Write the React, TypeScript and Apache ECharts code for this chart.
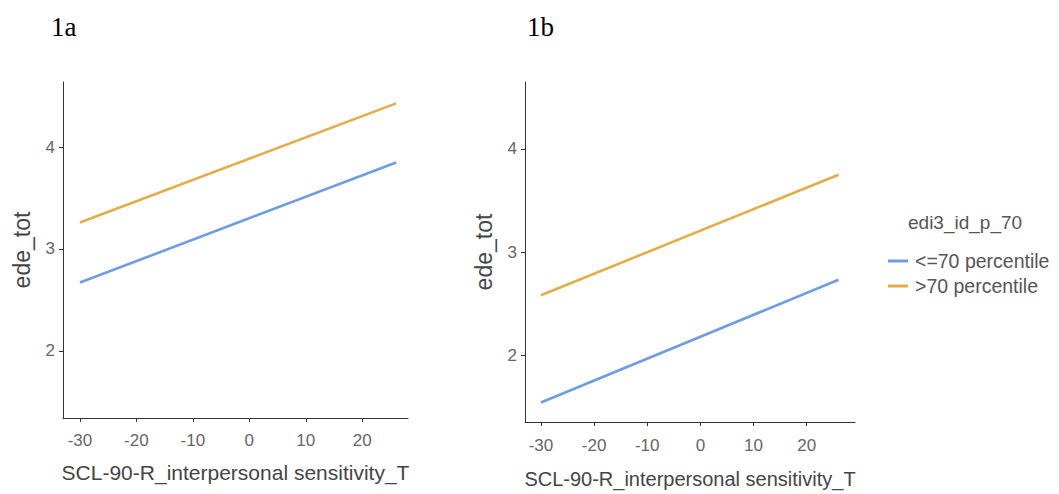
import React, { useEffect, useRef } from "react";
import * as echarts from "echarts";

const xTicks = [-30, -20, -10, 0, 10, 20];
const yTicks = [2, 3, 4];
const xEnds = [-30, 26];
const aLow = [2.67, 3.85];
const aHigh = [3.26, 4.43];
const bLow = [1.54, 2.73];
const bHigh = [2.58, 3.75];
const groupNames = ["<=70 percentile", ">70 percentile"];
const legendTitle = "edi3_id_p_70";
const xName = "SCL-90-R_interpersonal sensitivity_T";
const yName = "ede_tot";
const panelLabels = ["1a", "1b"];

const COLORS = ["#6F9CE3", "#E3AE48"];
const FONT = "Liberation Sans, Arial, sans-serif";

function pts(vals: number[]) {
  return xEnds.map((x, i) => [x, vals[i]]);
}

function xAxis(gridIndex: number, max: number, nameGap: number, margin: number, nameSize: number) {
  return {
    type: "value",
    gridIndex,
    min: -33,
    max,
    name: xName,
    nameLocation: "middle",
    nameGap,
    nameTextStyle: { fontFamily: FONT, fontSize: nameSize, color: "#444" },
    axisLine: { show: true, onZero: false, lineStyle: { color: "#333", width: 1 } },
    axisTick: { show: true, length: 4, customValues: xTicks, lineStyle: { color: "#333" } },
    axisLabel: { customValues: xTicks, margin, fontFamily: FONT, fontSize: 17, color: "#666" },
    splitLine: { show: false },
  };
}

function yAxis(gridIndex: number, min: number, max: number) {
  return {
    type: "value",
    gridIndex,
    min,
    max,
    name: yName,
    nameLocation: "middle",
    nameGap: 30,
    nameTextStyle: { fontFamily: FONT, fontSize: 23, color: "#444" },
    axisLine: { show: true, onZero: false, lineStyle: { color: "#333", width: 1 } },
    axisTick: { show: true, length: 4, customValues: yTicks, lineStyle: { color: "#333" } },
    axisLabel: { customValues: yTicks, margin: 8, fontFamily: FONT, fontSize: 17, color: "#666" },
    splitLine: { show: false },
  };
}

export default function App() {
  const ref = useRef<HTMLDivElement>(null);
  useEffect(() => {
    if (!ref.current) return;
    const chart = echarts.init(ref.current, null, { renderer: "svg" });
    const line = (name: string, xi: number, vals: number[], c: string) => ({
      name,
      type: "line",
      xAxisIndex: xi,
      yAxisIndex: xi,
      data: pts(vals),
      symbol: "none",
      lineStyle: { color: c, width: 2.6 },
      itemStyle: { color: c },
    });
    chart.setOption({
      animation: false,
      backgroundColor: "#fff",
      graphic: [
        { type: "text", left: 51, top: 13, style: { text: panelLabels[0], font: "27px 'Liberation Serif', 'Times New Roman', serif", fill: "#000" } },
        { type: "text", left: 527, top: 13, style: { text: panelLabels[1], font: "27px 'Liberation Serif', 'Times New Roman', serif", fill: "#000" } },
        { type: "text", left: 908, top: 213, style: { text: legendTitle, font: `19px ${FONT}`, fill: "#555" } },
      ],
      legend: {
        orient: "vertical",
        left: 883,
        top: 246,
        itemGap: 5,
        itemWidth: 20,
        itemHeight: 3,
        icon: "rect",
        data: groupNames,
        textStyle: { fontFamily: FONT, fontSize: 19.5, color: "#555", padding: [0, 0, 0, 2] },
      },
      grid: [
        { left: 63, top: 82, width: 345, height: 336 },
        { left: 525, top: 82, width: 330, height: 341 },
      ],
      xAxis: [xAxis(0, 28.1, 44, 14, 21), xAxis(1, 29.1, 47, 15, 20)],
      yAxis: [yAxis(0, 1.34, 4.64), yAxis(1, 1.35, 4.65)],
      series: [
        line(groupNames[0], 0, aLow, COLORS[0]),
        line(groupNames[1], 0, aHigh, COLORS[1]),
        line(groupNames[0], 1, bLow, COLORS[0]),
        line(groupNames[1], 1, bHigh, COLORS[1]),
      ],
    });
    return () => chart.dispose();
  }, []);
  return (
    <div
      ref={ref}
      style={{ position: "fixed", left: 0, top: 0, width: 1059, height: 494 }}
    />
  );
}
